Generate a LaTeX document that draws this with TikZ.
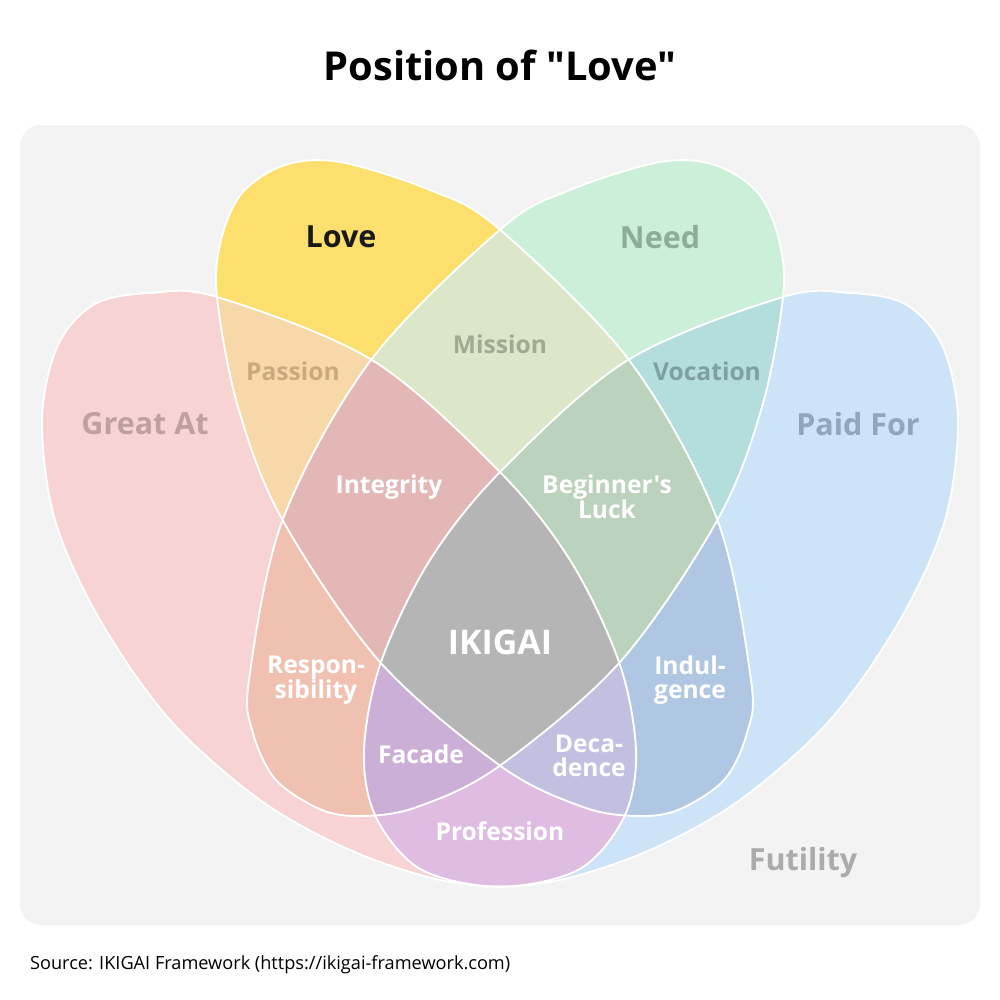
\documentclass[tikz,border=0pt]{standalone}
\usepackage{fontspec}
\setmainfont{Open Sans}[Ligatures=TeXOff]
\definecolor{bgc}{HTML}{F3F3F3}
\definecolor{cG}{HTML}{F7D3D4}
\definecolor{cP}{HTML}{CDE3F7}
\definecolor{cL}{HTML}{FDDF6D}
\definecolor{cN}{HTML}{CBEFD8}
\definecolor{cGL}{HTML}{F7D9A9}
\definecolor{cLN}{HTML}{DCE6C8}
\definecolor{cNP}{HTML}{B4DEDB}
\definecolor{cGP}{HTML}{DFBDE2}
\definecolor{cGN}{HTML}{F0C1B1}
\definecolor{cLP}{HTML}{B0C7E3}
\definecolor{cGLN}{HTML}{E4B7B7}
\definecolor{cLNP}{HTML}{BBD2BC}
\definecolor{cGNP}{HTML}{CBAFD6}
\definecolor{cGLP}{HTML}{C2C0E0}
\definecolor{cAll}{HTML}{B5B5B5}
% outline of "Great At" (Paid For is its mirror)
\newcommand\eG{plot[smooth cycle,tension=0.55] coordinates {(150,293) (217,297) (372,360) (498,470) (570,560)
  (619,662) (636,750) (625,815) (583,867) (515,886) (440,880) (350,850) (260,800) (170,720)
  (100,620) (55,520) (42,420) (58,345) (95,304)}}
% outline of "Love" (Need is its mirror)
\newcommand\eL{plot[smooth cycle,tension=0.55] coordinates {(340,162) (430,190) (498,228) (629,360) (717,519)
  (751,680) (747,733) (724,780) (678,810) (636,816) (583,807) (502,767) (380,662) (282,519)
  (238,407) (217,297) (221,240) (242,193) (285,165)}}
\let\eP\eG
\let\eN\eL
\tikzset{
  rG/.style={}, rL/.style={},
  rP/.style={shift={(1000,0)},xscale=-1},
  rN/.style={shift={(1000,0)},xscale=-1},
  rim/.style={draw=white,line width=1.6pt},
  big/.style={font=\bfseries\fontsize{26}{30}\selectfont,align=center},
  mid/.style={font=\bfseries\fontsize{21}{25}\selectfont,align=center,text=white},
}
% clip to one set
\newcommand\inset[1]{\clip[r#1]\csname e#1\endcsname;}
\begin{document}
\begin{tikzpicture}[x=0.03cm,y=-0.03cm]
\useasboundingbox (0,0) rectangle (1000,1000);
\fill[bgc,rounded corners=18] (20,125) rectangle (980,925);
\node[font=\bfseries\fontsize{34}{40}\selectfont] (title) at (500,65) {Position of "Love"};
% single sets
\fill[cG,rG] \eG; \fill[cP,rP] \eP; \fill[cL,rL] \eL; \fill[cN,rN] \eN;
% pairs
\begin{scope}\inset{G}\fill[cGL,rL]\eL; \fill[cGN,rN]\eN; \fill[cGP,rP]\eP;\end{scope}
\begin{scope}\inset{L}\fill[cLN,rN]\eN; \fill[cLP,rP]\eP;\end{scope}
\begin{scope}\inset{N}\fill[cNP,rP]\eP;\end{scope}
% triples
\begin{scope}\inset{G}\inset{L}\fill[cGLN,rN]\eN; \fill[cGLP,rP]\eP;\end{scope}
\begin{scope}\inset{N}\inset{P}\fill[cGNP,rG]\eG; \fill[cLNP,rL]\eL;\end{scope}
% all four
\begin{scope}\inset{G}\inset{L}\inset{N}\fill[cAll,rP]\eP;\end{scope}
% outlines
\draw[rim,rG] \eG; \draw[rim,rP] \eP; \draw[rim,rL] \eL; \draw[rim,rN] \eN;
% set names
\node[big,text=black!90] (love) at (341,237) {Love};
\node[big,text={rgb,255:red,143;green,172;blue,152}] (need) at (660,237) {Need};
\node[big,text={rgb,255:red,190;green,160;blue,160}] (great) at (145,424) {Great At};
\node[big,text={rgb,255:red,144;green,166;blue,188}] (paid) at (858,424) {Paid For};
\node[big,text=black!33] (futility) at (803,863) {Futility};
% overlaps
\node[mid,text={rgb,255:red,200;green,170;blue,125}] (passion) at (293,371) {Passion};
\node[mid,text={rgb,255:red,160;green,170;blue,145}] (mission) at (500,344) {Mission};
\node[mid,text={rgb,255:red,125;green,160;blue,160}] (vocation) at (707,371) {Vocation};
\node[mid] (integrity) at (389,487) {Integrity};
\node[mid] (luck) at (607,497) {Beginner's\\[-4pt]Luck};
\node[mid,font=\bfseries\fontsize{29}{34}\selectfont] (ikigai) at (500,642) {IKIGAI};
\node[mid] (resp) at (316,680) {Respon-\\[-4pt]sibility};
\node[mid] (indul) at (690,680) {Indul-\\[-4pt]gence};
\node[mid] (facade) at (421,754) {Facade};
\node[mid] (deca) at (589,756) {Deca-\\[-4pt]dence};
\node[mid] (prof) at (500,831) {Profession};
\node[anchor=west,font=\fontsize{15.5}{18}\selectfont] (src) at (26,965) {Source: IKIGAI Framework (https://ikigai-framework.com)};
\end{tikzpicture}
\end{document}
